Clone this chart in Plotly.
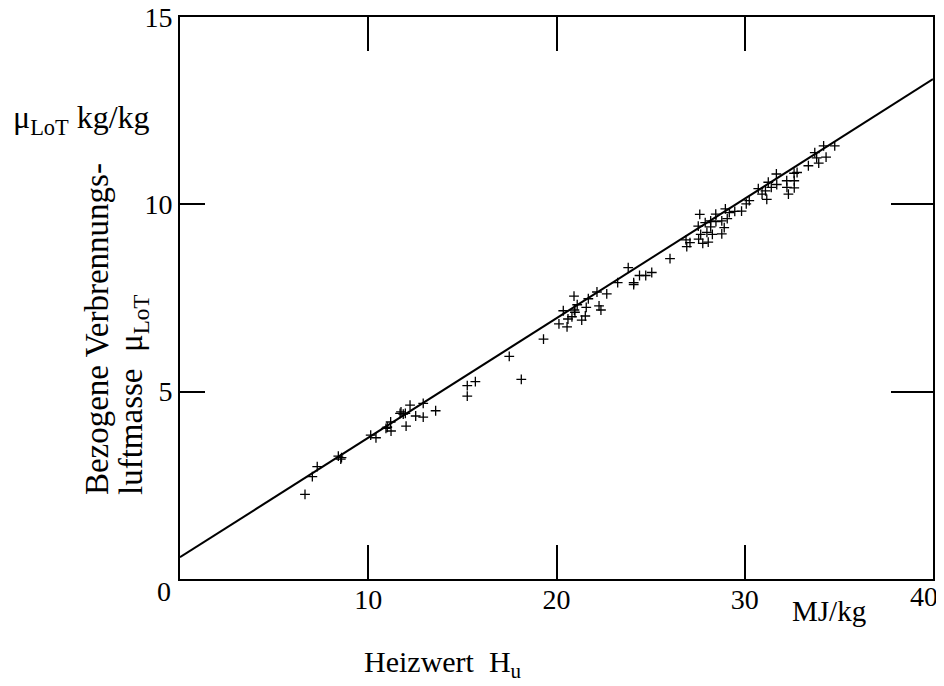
import plotly.graph_objects as go

# Heizwert Hu (MJ/kg) and bezogene Verbrennungsluftmasse muLoT (kg/kg)
hu = [6.64, 7.03, 7.29, 8.41, 8.54, 8.58, 10.13, 10.41, 10.94, 11.01,
      11.19, 11.21, 11.69, 11.74, 11.86, 11.97, 12.01, 12.22, 12.52, 12.92,
      12.92, 13.58, 15.26, 15.26, 15.69, 17.49, 18.13, 19.31, 20.13, 20.36,
      20.56, 20.61, 20.82, 20.93, 20.95, 20.98, 21.10, 21.34, 21.53, 21.58,
      21.69, 22.15, 22.26, 22.36, 22.67, 23.25, 23.81, 24.10, 24.10, 24.41,
      24.74, 25.06, 26.03, 26.88, 26.92, 27.09, 27.53, 27.55, 27.61, 27.66,
      27.77, 27.90, 27.99, 28.06, 28.19, 28.19, 28.28, 28.46, 28.47, 28.78,
      28.78, 28.91, 28.97, 29.07, 29.18, 29.47, 29.83, 30.08, 30.24, 30.72,
      30.92, 31.10, 31.17, 31.25, 31.41, 31.68, 31.70, 32.23, 32.24, 32.32,
      32.62, 32.63, 32.63, 32.78, 33.38, 33.72, 33.82, 33.93, 34.19, 34.32,
      34.78]
mu = [2.26, 2.73, 3.00, 3.28, 3.20, 3.24, 3.84, 3.77, 4.02, 4.05,
      4.19, 3.95, 4.42, 4.46, 4.40, 4.42, 4.08, 4.64, 4.35, 4.69,
      4.32, 4.49, 5.16, 4.88, 5.27, 5.94, 5.33, 6.40, 6.81, 7.16,
      6.73, 6.94, 7.00, 7.55, 7.18, 7.12, 7.32, 6.91, 7.02, 7.25,
      7.48, 7.66, 7.29, 7.18, 7.61, 7.91, 8.31, 7.86, 7.91, 8.10,
      8.10, 8.18, 8.55, 9.05, 8.87, 8.98, 9.42, 9.07, 9.73, 9.20,
      8.96, 9.51, 9.25, 8.99, 9.56, 9.40, 9.20, 9.74, 9.54, 9.56,
      9.21, 9.38, 9.88, 9.62, 9.78, 9.81, 9.82, 10.01, 10.10, 10.42,
      10.27, 10.36, 10.13, 10.59, 10.45, 10.81, 10.53, 10.63, 10.45, 10.27,
      10.83, 10.63, 10.44, 10.85, 11.03, 11.38, 11.24, 11.10, 11.56, 11.26,
      11.56]

# Regression line endpoints
line_x = [0, 40]
line_y = [0.58, 13.34]

x_ticks = [10, 20, 30]
y_ticks = [5, 10, 15]

FONT = "Liberation Serif, Times New Roman, serif"
FS = 28

fig = go.Figure()
fig.add_trace(go.Scatter(x=line_x, y=line_y, mode="lines",
                         line=dict(color="black", width=2),
                         showlegend=False, hoverinfo="skip"))
fig.add_trace(go.Scatter(x=hu, y=mu, mode="markers",
                         marker=dict(symbol="cross-thin", size=7,
                                     line=dict(color="black", width=1.3)),
                         showlegend=False))
# helper trace for right-hand tick axis
fig.add_trace(go.Scatter(x=[None], y=[None], yaxis="y2", xaxis="x",
                         showlegend=False, hoverinfo="skip"))

fig.update_layout(
    width=944, height=686,
    margin=dict(l=172, r=19, t=9, b=115, autoexpand=False),
    paper_bgcolor="white", plot_bgcolor="white",
    font=dict(family=FONT, size=FS, color="black"),
    xaxis=dict(range=[0, 40], tickvals=x_ticks, ticktext=[str(v) for v in x_ticks],
               ticks="inside", ticklen=34, tickwidth=2, tickcolor="black",
               showline=True, linewidth=2, linecolor="black", mirror="ticks",
               showgrid=False, zeroline=False, automargin=False,
               ticklabeloverflow="allow", ticklabelstandoff=-6,
               tickfont=dict(family=FONT, size=28)),
    yaxis=dict(range=[0, 15], tickvals=y_ticks, ticktext=[str(v) for v in y_ticks],
               ticks="inside", ticklen=25, tickwidth=2, tickcolor="black",
               showline=True, linewidth=2, linecolor="black", mirror=True,
               showgrid=False, zeroline=False, automargin=False,
               ticklabeloverflow="allow",
               tickfont=dict(family=FONT, size=28)),
    yaxis2=dict(range=[0, 15], overlaying="y", side="right",
                tickvals=[5, 10], ticks="inside", ticklen=42, tickwidth=2,
                tickcolor="black", showticklabels=False, showline=False,
                showgrid=False, zeroline=False, automargin=False),
    annotations=[
        dict(text="0", xref="paper", yref="paper", x=-0.0206, y=-0.0214,
             xanchor="center", yanchor="middle", showarrow=False),
        dict(text="40", xref="paper", yref="paper", x=0.9887, y=-0.032,
             xanchor="center", yanchor="middle", showarrow=False),
        dict(text="MJ/kg", xref="paper", yref="paper", x=0.862, y=-0.057,
             xanchor="center", yanchor="middle", showarrow=False,
             font=dict(size=29)),
        dict(text="Heizwert  H<sub>u</sub>", xref="paper", yref="paper",
             x=0.349, y=-0.151, xanchor="center", yanchor="middle",
             showarrow=False, font=dict(size=30)),
        dict(text="μ<sub>LoT</sub> kg/kg", xref="paper", yref="paper",
             x=-0.225, y=0.817, xanchor="left", yanchor="middle",
             showarrow=False, font=dict(size=32)),
        dict(text="Bezogene Verbrennungs-", xref="paper", yref="paper",
             x=-0.110, y=0.146, xanchor="center", yanchor="bottom",
             textangle=-90, showarrow=False, font=dict(size=33)),
        dict(text="luftmasse  μ<sub>LoT</sub>", xref="paper", yref="paper",
             x=-0.061, y=0.146, xanchor="center", yanchor="bottom",
             textangle=-90, showarrow=False, font=dict(size=33)),
    ],
)

fig.write_html("out.html")
